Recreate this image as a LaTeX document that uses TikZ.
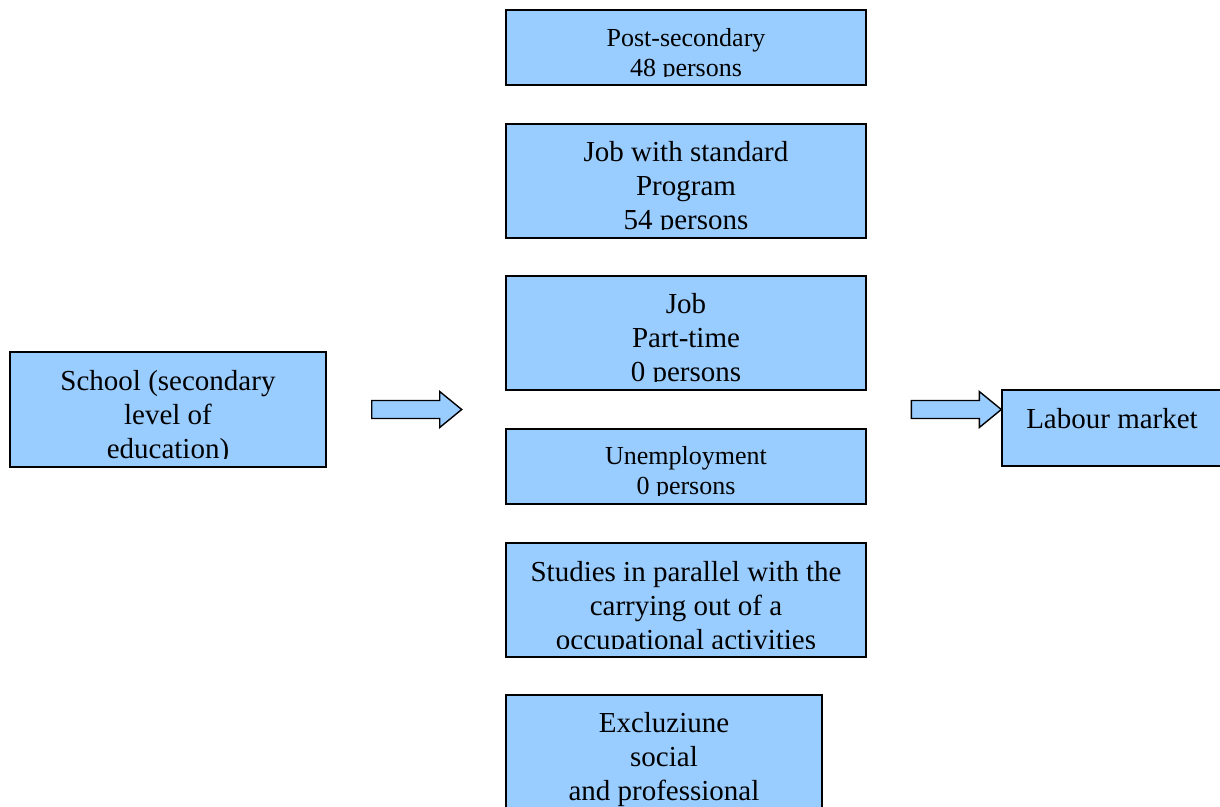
\documentclass[tikz,border=0pt]{standalone}
\usepackage{fontspec}
\setmainfont{Liberation Serif}
\usetikzlibrary{calc}

\definecolor{boxblue}{HTML}{99CCFF}
\tikzset{
  box/.style={draw=black, fill=boxblue, line width=1.4pt, inner sep=0pt},
  big/.style={font=\fontsize{29}{34}\selectfont, align=center, inner sep=0pt},
  small/.style={font=\fontsize{26}{30}\selectfont, align=center, inner sep=0pt},
  fatarrow/.style={draw=black, fill=boxblue, line width=1.4pt, line join=miter},
}
% text of a box, cut at the inner margin of the box
\newcommand{\boxlabel}[4]{%
  \begin{scope}
    \clip ([yshift=9pt]#1.south west) rectangle (#1.north east);
    \node[#3] (#1-txt) at ([yshift=#2]#1.center) {#4};
  \end{scope}}
% block arrow, drawn back from its tip
\newcommand{\blockarrow}[1]{%
  \draw[fatarrow] (#1) -- ++(-22,-18) -- ++(0,9) -- ++(-68,0) -- ++(0,18)
    -- ++(68,0) -- ++(0,9) -- cycle;}

\begin{document}
\begin{tikzpicture}[x=1pt,y=-1pt]
		\useasboundingbox (0,0) rectangle (1220,806);
		\clip (0,0) rectangle (1220,806);
		% boxes
		\node[box, minimum width=360pt, minimum height=75pt] (post) at (686,47.5) {};
		\node[box, minimum width=360pt, minimum height=114pt] (jobstd) at (686,181) {};
		\node[box, minimum width=360pt, minimum height=114pt] (parttime) at (686,333) {};
		\node[box, minimum width=360pt, minimum height=75pt] (unemp) at (686,466.5) {};
		\node[box, minimum width=360pt, minimum height=114pt] (studies) at (686,600) {};
		\node[box, minimum width=316pt, minimum height=140pt] (excl) at (664,765) {};
		\node[box, minimum width=316pt, minimum height=115pt] (school) at (168,409.5) {};
		\node[box, minimum width=220pt, minimum height=76pt] (labour) at (1112,428) {};
		% texts
		\boxlabel{post}{-7.5pt}{small}{Post-secondary\\48 persons}
		\boxlabel{jobstd}{-8pt}{big}{Job with standard\\Program\\54 persons}
		\boxlabel{parttime}{-8pt}{big}{Job\\Part-time\\0 persons}
		\boxlabel{unemp}{-6.5pt}{small}{Unemployment\\0 persons}
		\boxlabel{studies}{-8.5pt}{big}{Studies in parallel with the\\carrying out of a\\occupational activities}
		\boxlabel{excl}{5pt}{big}{Excluziune\\social\\and professional}
		\boxlabel{school}{-8pt}{big}{School (secondary\\level of\\education)}
		\boxlabel{labour}{9pt}{big}{Labour market}
		% arrows
		\blockarrow{[xshift=135pt]school.east}
		\blockarrow{labour.west |- school.east}
	\end{tikzpicture}
\end{document}
